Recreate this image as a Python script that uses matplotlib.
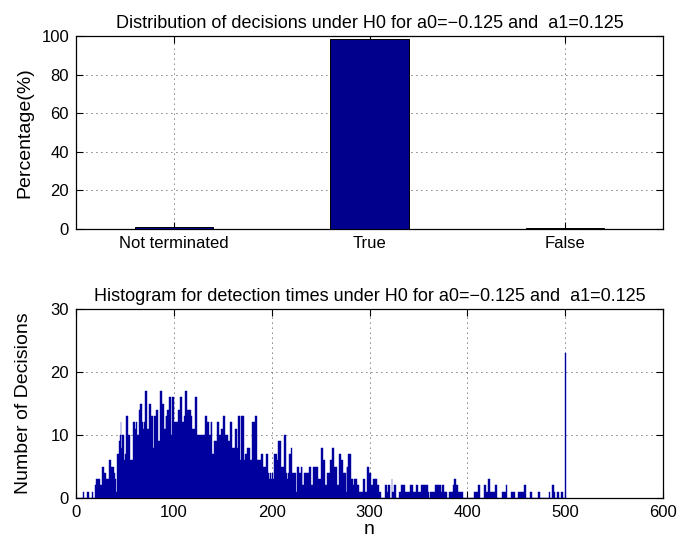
import matplotlib
matplotlib.use("Agg")
import matplotlib.pyplot as plt
import numpy as np

plt.rcParams['font.family'] = ['Liberation Sans', 'DejaVu Sans']

# ---- data: top bar chart ----
decision_labels = ["Not terminated", "True", "False"]
decision_pct = [1.2, 98.2, 0.6]

# ---- data: histogram of detection times (n = 1..500) ----
hist_counts = [
    0,0,0,0,0,0,0,1,0,0,
    0,1,1,0,0,0,1,0,0,2,
    3,3,3,3,2,2,5,5,4,4,
    3,3,3,6,6,5,5,5,4,3,
    1,7,7,9,10,12,8,10,10,6,
    7,13,13,10,10,6,6,6,12,12,
    11,12,10,10,14,15,15,12,11,12,
    17,17,11,11,15,15,13,13,8,13,
    13,14,14,9,9,17,17,15,15,11,
    11,13,13,14,14,16,16,10,16,16,
    12,12,12,12,14,14,16,16,12,12,
    13,17,17,14,14,14,14,13,11,11,
    11,16,16,10,10,10,10,10,10,10,
    10,13,13,12,12,10,10,12,12,7,
    7,9,9,9,12,12,10,10,11,11,
    13,13,10,10,10,9,9,12,12,8,
    8,8,11,11,8,13,13,6,13,13,
    13,6,7,7,8,8,8,6,6,12,
    12,12,13,13,6,6,6,6,6,7,
    7,5,5,5,7,7,4,3,4,3,
    4,3,7,7,7,6,9,9,9,5,
    5,5,10,10,4,3,4,7,7,8,
    4,4,4,4,1,5,5,4,4,5,
    5,2,2,4,4,4,4,4,5,5,
    2,2,5,5,5,5,5,3,3,3,
    8,8,6,6,2,2,4,4,4,6,
    6,8,8,5,5,5,2,2,7,7,
    6,6,4,4,4,1,5,5,7,7,
    7,3,3,2,3,3,3,2,2,1,
    1,1,1,3,3,1,1,5,5,4,
    4,2,2,3,3,3,3,2,2,1,
    1,0,0,0,0,2,2,1,2,2,
    0,0,3,1,1,2,2,0,0,0,
    1,1,2,2,2,2,1,1,1,1,
    1,2,2,2,1,1,1,2,2,1,
    1,1,2,2,2,2,2,2,2,1,
    0,1,1,1,1,1,2,2,2,2,
    2,2,2,1,2,2,1,1,1,0,
    0,1,1,1,1,2,3,3,2,2,
    1,1,1,1,1,0,0,0,0,0,
    0,0,0,0,0,0,1,1,1,1,
    2,2,0,0,0,0,0,2,2,1,
    1,3,3,1,1,1,1,1,2,2,
    0,0,0,0,0,1,1,1,1,2,
    0,0,0,0,1,1,1,1,0,0,
    0,1,1,1,1,1,1,2,2,0,
    0,0,0,0,1,1,0,0,0,0,
    0,0,1,1,0,0,0,0,0,0,
    0,0,0,1,0,0,2,2,1,0,
    0,1,1,0,0,1,1,0,0,23,
]
n_values = np.arange(1, len(hist_counts) + 1)

top_title = "Distribution of decisions under H0 for a0=\u22120.125 and  a1=0.125"
bot_title = "Histogram for detection times under H0 for a0=\u22120.125 and  a1=0.125"

W, H = 679, 546
fig = plt.figure(figsize=(W / 100, H / 100), dpi=100)

def px_axes(l, t, r, b):
    return fig.add_axes([l / W, 1 - b / H, (r - l) / W, (b - t) / H])

grid_style = dict(color='black', linestyle=(0, (1, 5)), linewidth=0.6)
navy = '#00008C'

def style(ax):
    ax.tick_params(direction='in', top=True, right=True, length=5, width=0.8,
                   labelsize=12, pad=5)
    for s in ax.spines.values():
        s.set_linewidth(0.9)
    ax.grid(True, **grid_style)
    ax.set_axisbelow(True)

# top axes
ax1 = px_axes(76, 36, 663, 229)
xpos = np.arange(1, len(decision_pct) + 1)
ax1.bar(xpos, decision_pct, width=0.4, color=navy, edgecolor='black', linewidth=0.7, zorder=3)
ax1.set_xlim(0.5, 3.5)
ax1.set_ylim(0, 100)
ax1.set_xticks(xpos)
ax1.set_xticklabels(decision_labels)
ax1.set_yticks(np.arange(0, 101, 20))
style(ax1)
ax1.set_ylabel("Percentage(%)", fontsize=14, labelpad=6)
ax1.set_title(top_title, fontsize=13, pad=6)

# bottom axes
ax2 = px_axes(76, 309, 663, 498)
ax2.bar(n_values, hist_counts, width=1.0, color=navy, edgecolor='#0000B0',
        linewidth=0.3, zorder=3)
ax2.set_xlim(0, 600)
ax2.set_ylim(0, 30)
ax2.set_xticks(np.arange(0, 601, 100))
ax2.set_yticks(np.arange(0, 31, 10))
style(ax2)
ax2.set_ylabel("Number of Decisions", fontsize=14, labelpad=13)
ax2.set_xlabel("n", fontsize=14, labelpad=1)
ax2.set_title(bot_title, fontsize=13, pad=6)

fig.savefig("out.png", dpi=100)
